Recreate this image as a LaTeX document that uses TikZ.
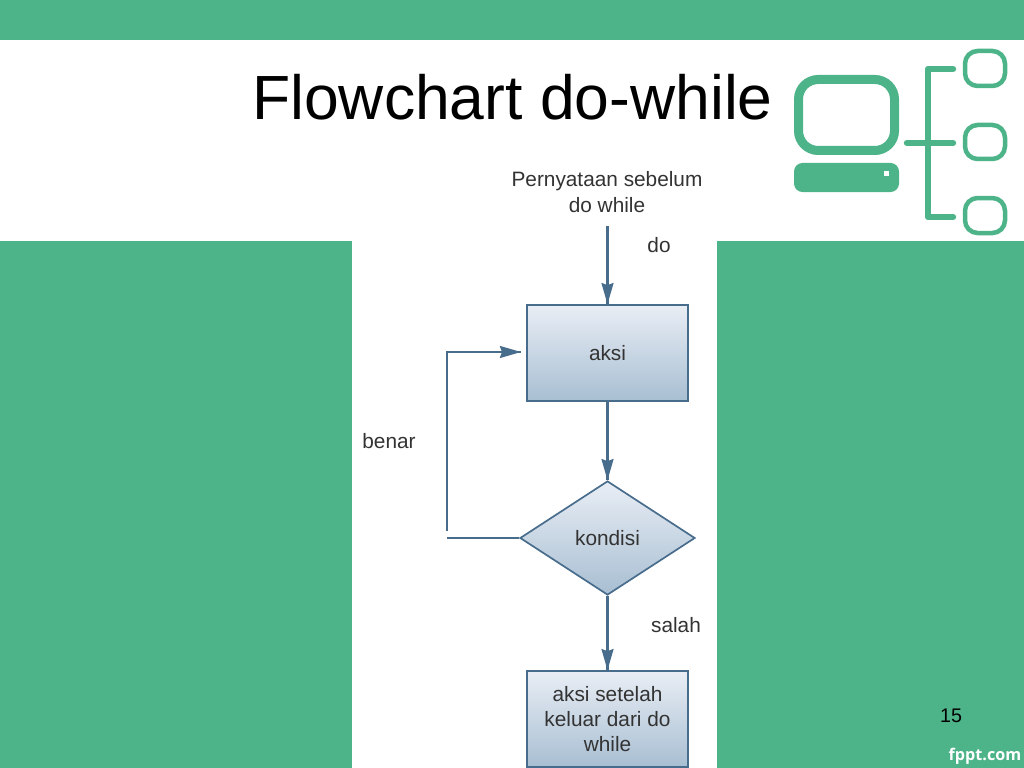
\documentclass[tikz,border=0pt]{standalone}
\usepackage{fontspec}
\setmainfont{Liberation Sans}
\newfontfamily\fpptfont{Open Sans}
\usetikzlibrary{arrows.meta}
\usetikzlibrary{decorations.markings}
\usetikzlibrary{shapes.geometric}
\definecolor{slidegreen}{HTML}{4DB388}
\definecolor{flowline}{HTML}{486C8C}
\definecolor{flowtop}{HTML}{E9EEF5}
\definecolor{flowbottom}{HTML}{A8BED2}
\definecolor{flowtext}{HTML}{333333}
\tikzset{flow/.style = {draw = flowline, line width = 1.6pt,
                        decoration={markings,
                                    mark=at position 1 with {\arrow{Stealth[length=15pt, width=8.5pt, inset=1.5pt]}}},
                        postaction={decorate}}}
\tikzset{wire/.style = {draw = flowline, line width = 1.6pt}}
\tikzset{txt/.style = {text = flowtext, font = \fontsize{14.8}{18}\selectfont, align = center, inner sep = 0}}
\tikzset{stepbox/.style = {txt, draw = flowline, line width = 1.2pt, top color = flowtop, bottom color = flowbottom,
                           minimum width = 4.025cm, minimum height = 2.4cm}}
\tikzset{test/.style = {txt, diamond, draw = flowline, line width = 1.2pt, top color = flowtop, bottom color = flowbottom,
                        minimum width = 4.375cm, minimum height = 2.85cm}}
\tikzset{logo/.style = {draw = slidegreen, line cap = round}}
\begin{document}
\begin{tikzpicture}[x = 0.025cm, y = -0.025cm]
    \useasboundingbox (0, 0) rectangle (1024, 768);
    \fill [white] (0, 0) rectangle (1024, 768);

    % slide background
    \fill [slidegreen] (0, 0) rectangle (1024, 40);
    \fill [slidegreen] (0, 241) rectangle (352, 768);
    \fill [slidegreen] (717, 241) rectangle (1024, 768);

    \node (title) [font = \fontsize{44.4}{50}\selectfont, inner sep = 0] at (512.5, 97) {Flowchart do-while};
    \node (pagenum) [font = \fontsize{14}{16}\selectfont, inner sep = 0] at (951, 716) {15};
    \node (brand) [font = \fpptfont\bfseries\fontsize{11.5}{14}\selectfont, text = white, inner sep = 0] at (985, 756) {fppt.com};

    % logo
    \draw [logo, line width = 6.4pt, rounded corners = 14] (798.5, 79.5) rectangle (894.5, 150.5);
    \fill [slidegreen, rounded corners = 6] (794, 163) rectangle (899, 192);
    \fill [white] (883.5, 171) rectangle (888.5, 176);
    \draw [logo, line width = 4.6pt, line join = round] (953, 69) -- (928, 69) -- (928, 217) -- (953, 217);
    \draw [logo, line width = 4.6pt] (907, 143) -- (953, 143);
    \draw [logo, line width = 3.2pt, rounded corners = 9] (965, 51) rectangle (1005, 86);
    \draw [logo, line width = 3.2pt, rounded corners = 9] (965, 125) rectangle (1005, 159);
    \draw [logo, line width = 3.2pt, rounded corners = 9] (965, 198) rectangle (1005, 233);

    % flowchart
    \node (before) [txt] at (607, 192) {Pernyataan sebelum\\do while};
    \node (aksi) [stepbox] at (607.5, 353) {aksi};
    \node (kondisi) [test] at (607.5, 538) {kondisi};
    \node (after) [stepbox] at (607.5, 719) {aksi setelah\\keluar dari do\\while};

    \node (do) [txt] at (659, 245) {do};
    \node (benar) [txt] at (389, 441) {benar};
    \node (salah) [txt] at (676, 625) {salah};

    \coordinate (beforeend) at (607.5, 226);
    \coordinate (loopend) at (447, 538);
    \coordinate (loopstart) at (447, 531);
    \coordinate (looptop) at (447, 352);
    \coordinate (looptip) at (521, 352);

    \draw [flow] (beforeend) -- (aksi.north);
    \draw [flow] (aksi) -- (kondisi);
    \draw [flow] (kondisi) -- (after);
    \draw [wire] (kondisi.west) -- (loopend);
    \draw [flow] (loopstart) -- (looptop) -- (looptip);
\end{tikzpicture}
\end{document}
